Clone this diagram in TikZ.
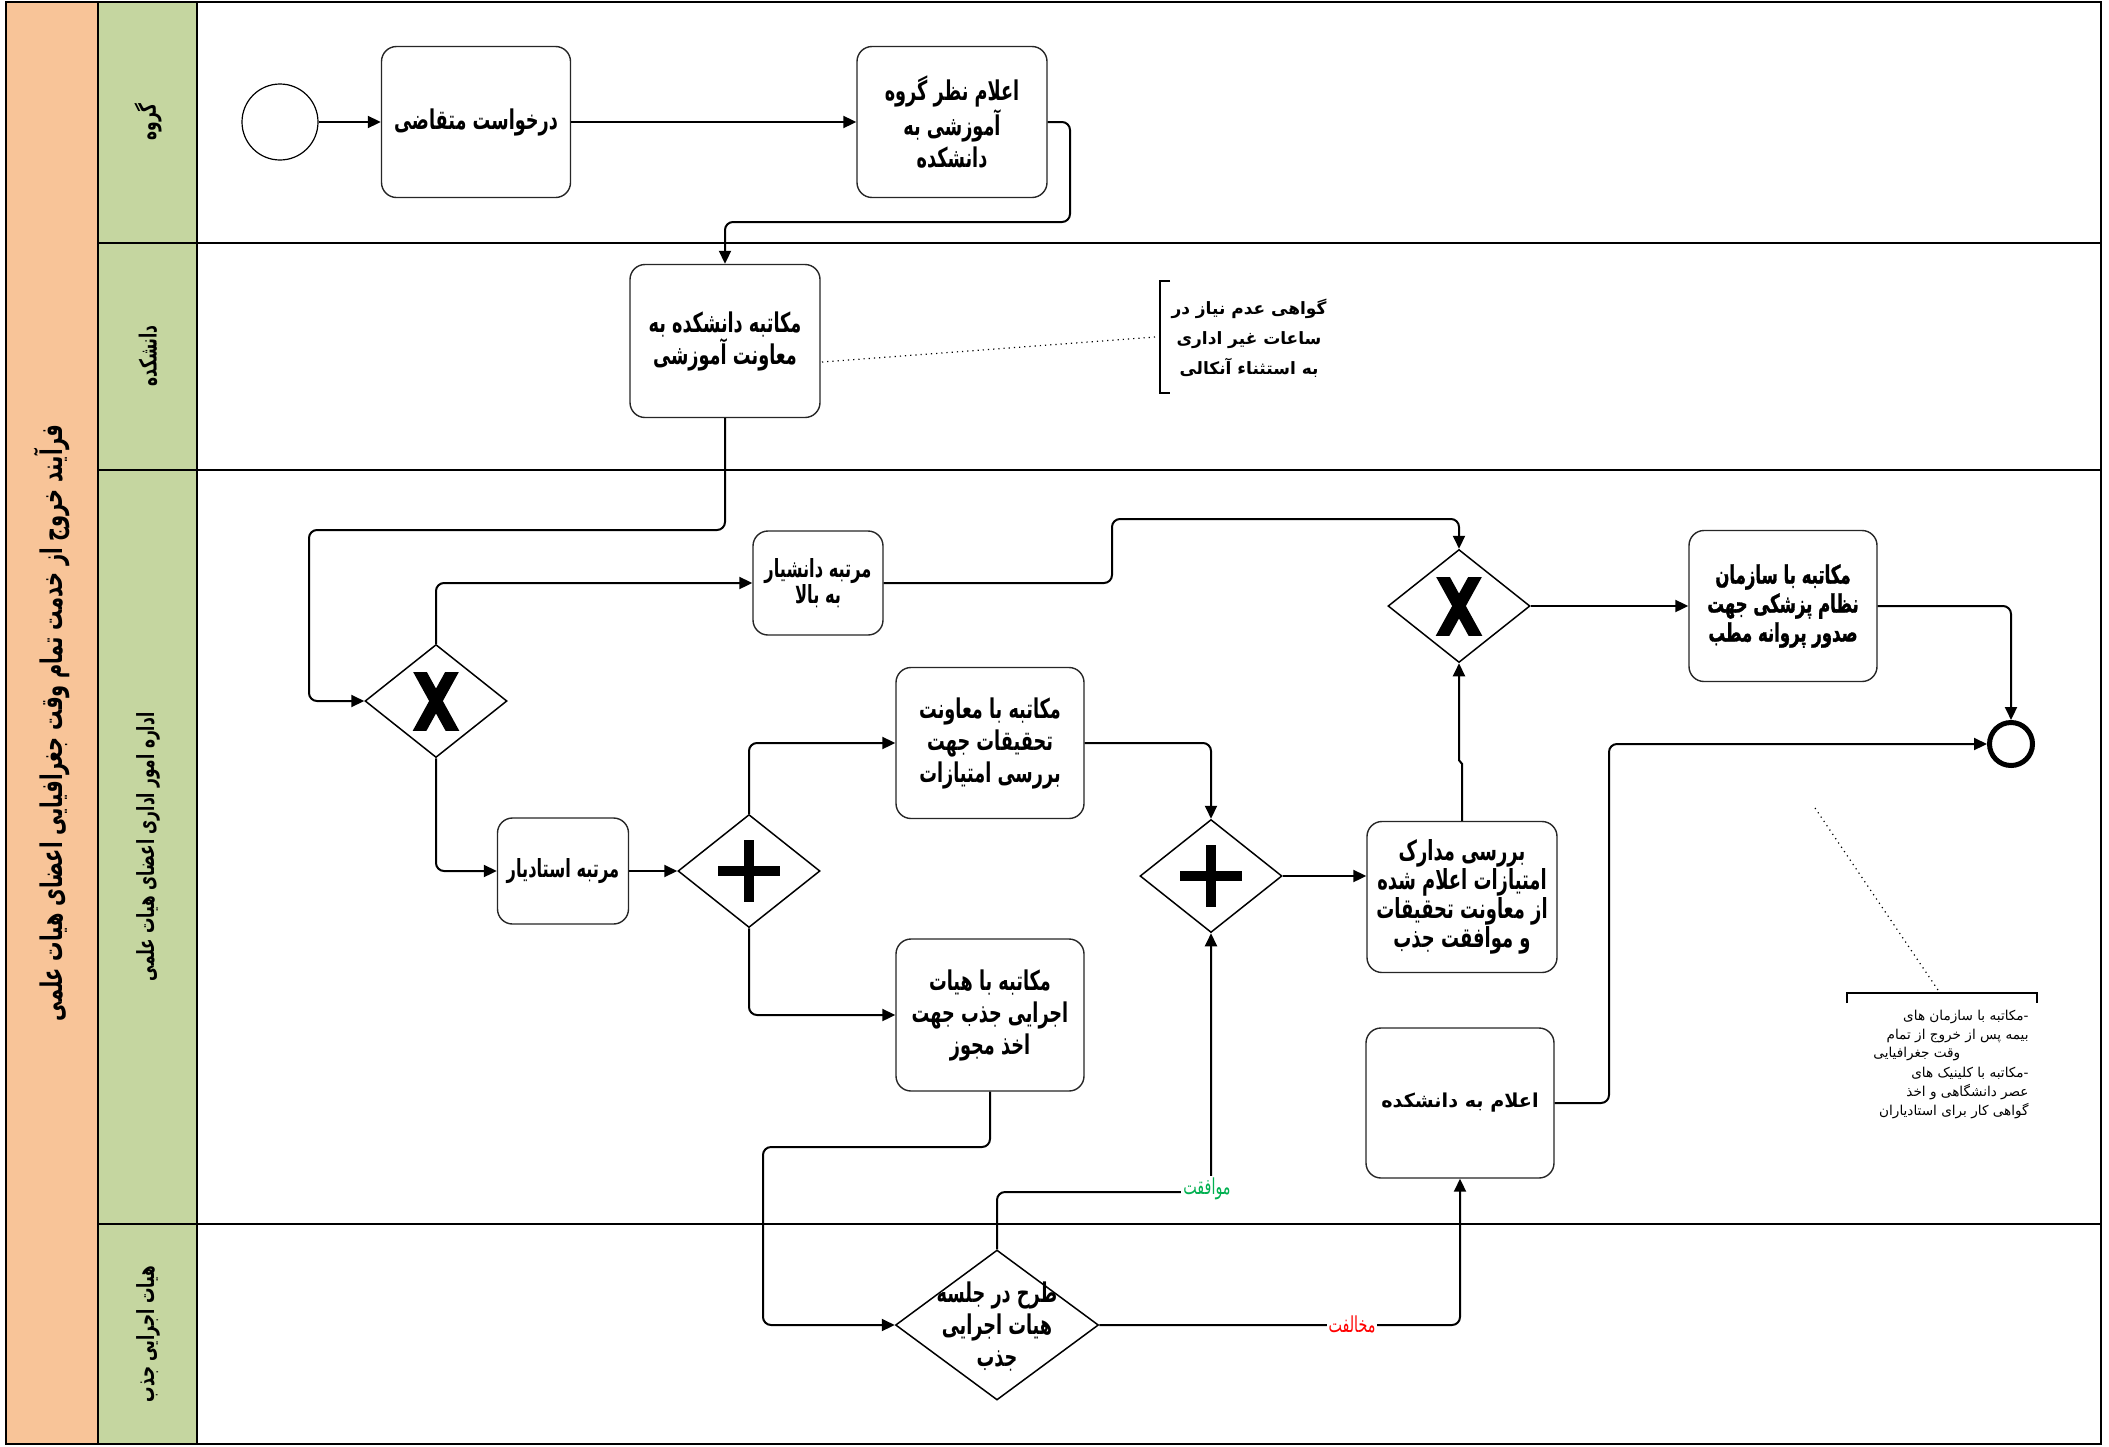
\documentclass[tikz,border=0pt]{standalone}
\usepackage{fontspec}
\usetikzlibrary{shapes.geometric,arrows.meta,calc}
\TeXXeTstate=1
\newfontfamily\fa[Script=Arabic,FakeStretch=0.65]{DejaVu Sans}
\newfontfamily\fab[Script=Arabic,FakeStretch=0.65,FakeBold=1.2]{DejaVu Sans Bold}
\newfontfamily\fn[Script=Arabic]{DejaVu Sans}
\newcommand\rtext[1]{\beginR#1\endR}
\definecolor{poolorange}{RGB}{248,196,152}
\definecolor{lanegreen}{RGB}{197,214,160}
\definecolor{okgreen}{RGB}{0,176,80}
\definecolor{nored}{RGB}{255,0,0}
\tikzset{
  task/.style={draw=black!85, line width=0.7pt, rounded corners=7.5pt, fill=white,
    align=center, inner sep=2pt, font=\fa\bfseries\fontsize{13.6}{16}\selectfont},
  smalltask/.style={task, font=\fa\bfseries\fontsize{12.5}{13}\selectfont},
  gw/.style={diamond, draw, line width=0.75pt, inner sep=0pt, fill=white,
    minimum width=71pt, minimum height=56.5pt},
  flow/.style={line width=1pt, rounded corners=4pt, -{Triangle[length=6.5pt,width=6pt]}},
  assoc/.style={line width=0.6pt, dotted},
  lanelbl/.style={rotate=90, font=\fa\bfseries\fontsize{11.8}{13}\selectfont},
  poolline/.style={line width=1.2pt},
  flowlbl/.style={fill=white, inner sep=1pt, font=\fa\fontsize{11}{12}\selectfont},
  anntext/.style={font=\fn\fontsize{6.8}{9}\selectfont, inner sep=0pt}
}
\begin{document}
\begin{tikzpicture}[x=0.5pt,y=-0.5pt]
\useasboundingbox (0,0) rectangle (2109,1446);
% pool and lanes
\fill[poolorange] (6,2) rectangle (98,1444);
\fill[lanegreen] (98,2) rectangle (197,1444);
\draw[poolline] (6,2) rectangle (2101,1444);
\draw[poolline] (98,2) -- (98,1444);
\draw[poolline] (197,2) -- (197,1444);
\draw[poolline] (98,243) -- (2101,243);
\draw[poolline] (98,470) -- (2101,470);
\draw[poolline] (98,1224) -- (2101,1224);
\node[lanelbl, font=\fa\bfseries\fontsize{14.9}{16}\selectfont] (title) at (52,723)
  {\rtext{فرآیند خروج از خدمت تمام وقت جغرافیایی  اعضای هیات علمی}};
\node[lanelbl] (lane1) at (148,122) {\rtext{گروه}};
\node[lanelbl] (lane2) at (148,356) {\rtext{دانشکده}};
\node[lanelbl] (lane3) at (148,847) {\rtext{اداره امور اداری اعضای هیات علمی}};
\node[lanelbl] (lane4) at (148,1334) {\rtext{هیات اجرایی جذب}};

% events
\node[circle, draw, line width=0.6pt, minimum size=38pt, inner sep=0pt] (start) at (280,122) {};
\node[circle, draw, line width=2.5pt, minimum size=21.5pt, inner sep=0pt] (end) at (2011,744) {};

% tasks
\node[task, minimum width=94.5pt, minimum height=75.5pt] (req) at (476,122) {\rtext{درخواست متقاضی}};
\node[task, minimum width=95pt, minimum height=75.5pt] (grp) at (952,122)
  {\rtext{اعلام نظر گروه}\\\rtext{آموزشی به}\\\rtext{دانشکده}};
\node[task, minimum width=95pt, minimum height=76.5pt] (fac) at (725,341)
  {\rtext{مکاتبه دانشکده به}\\\rtext{معاونت آموزشی}};
\node[smalltask, minimum width=65pt, minimum height=52pt] (dan) at (818,583)
  {\rtext{مرتبه دانشیار}\\\rtext{به بالا}};
\node[smalltask, minimum width=65.5pt, minimum height=53pt] (ost) at (563,871)
  {\rtext{مرتبه استادیار}};
\node[task, minimum width=94pt, minimum height=75.5pt] (moa) at (990,743)
  {\rtext{مکاتبه با معاونت}\\\rtext{تحقیقات جهت}\\\rtext{بررسی امتیازات}};
\node[task, minimum width=94pt, minimum height=76pt] (hey) at (990,1015)
  {\rtext{مکاتبه با هیات}\\\rtext{اجرایی جذب جهت}\\\rtext{اخذ مجوز}};
\node[task, minimum width=95pt, minimum height=75.5pt, font=\fa\bfseries\fontsize{13.8}{14.5}\selectfont] (bar) at (1462,897)
  {\rtext{بررسی مدارک}\\\rtext{امتیازات اعلام شده}\\\rtext{از معاونت تحقیقات}\\\rtext{و موافقت جذب}};
\node[task, minimum width=94pt, minimum height=75.5pt, font=\fab\fontsize{12.7}{14.5}\selectfont] (saz) at (1783,606)
  {\rtext{مکاتبه با سازمان}\\\rtext{نظام پزشکی جهت}\\\rtext{صدور پروانه مطب}};
\node[task, minimum width=94pt, minimum height=75pt, font=\fn\bfseries\fontsize{9.6}{13}\selectfont] (elam) at (1460,1103)
  {\rtext{اعلام به دانشکده}};

% gateways
\node[gw] (x1) at (436,701) {};
\node[gw] (a1) at (749,871) {};
\node[gw] (a2) at (1211,876) {};
\node[gw] (x2) at (1459,606) {};
\node[gw, minimum width=101.5pt, minimum height=75pt] (jal) at (997,1325) {};
\node[align=center, inner sep=0pt, font=\fa\bfseries\fontsize{13.6}{16}\selectfont] (jalt) at (997,1327)
  {\rtext{طرح در جلسه}\\\rtext{هیات اجرایی}\\\rtext{جذب}};

% gateway markers
\foreach \g in {x1,x2}{
  \begin{scope}[shift={(\g)}]
    \clip (-26,-29) rectangle (26,29);
    \draw[line width=6pt] (-19.3,-35) -- (19.3,35);
    \draw[line width=6pt] (19.3,-35) -- (-19.3,35);
  \end{scope}
}
\foreach \g in {a1,a2}{
  \begin{scope}[shift={(\g)}]
    \draw[line width=5pt] (-31,0) -- (31,0);
    \draw[line width=5pt] (0,-31) -- (0,31);
  \end{scope}
}

% bend points
\coordinate (c1) at (1070,222);
\coordinate (c2) at (309,530);
\coordinate (c3) at (763,1147);
\coordinate (c4) at (1211,1192);
\coordinate (c5) at (1112,519);
\coordinate (c6) at (1609,744);

% sequence flows
\draw[flow] (start) -- (req);
\draw[flow] (req) -- (grp);
\draw[flow] (grp.east) -| (c1) -| (fac.north);
\draw[flow] (fac.south) |- (c2) |- (x1.west);
\draw[flow] (x1.north) |- (dan.west);
\draw[flow] (x1.south) |- (ost.west);
\draw[flow] (ost.east) -- (a1.west);
\draw[flow] (a1.north) |- (moa.west);
\draw[flow] (a1.south) |- (hey.west);
\draw[flow] (moa.east) -| (a2.north);
\draw[flow] (hey.south) |- (c3) |- (jal.west);
\draw[flow] (jal.north) |- (c4) -- (a2.south);
\draw[flow] (jal.east) -| (elam.south);
\draw[flow] (a2.east) -- (bar.west |- a2.east);
\draw[flow, rounded corners=0pt] (bar.north) -- ($(bar.north)+(0,-57)$) -- ($(x2.south)+(0,97)$) -- (x2.south);
\draw[flow] (dan.east) -| (c5) -| (x2.north);
\draw[flow] (x2.east) -- (saz.west);
\draw[flow] (saz.east) -| (end.north);
\draw[flow] (elam.east) -| (c6) -- (end.west);

% flow labels
\node[flowlbl, text=okgreen] (lok) at (1207,1189) {\rtext{موافقت}};
\node[flowlbl, text=nored] (lno) at (1352,1324) {\rtext{مخالفت}};

% annotation 1
\coordinate (b1t) at (1160,281);
\coordinate (b1b) at (1160,393);
\draw[line width=0.9pt] ($(b1t)+(10,0)$) -- (b1t) -- (b1b) -- ($(b1b)+(10,0)$);
\node[align=center, inner sep=0pt, font=\fn\bfseries\fontsize{8.5}{15}\selectfont] (ann1) at (1249,338)
  {\rtext{گواهی عدم نیاز در}\\\rtext{ساعات غیر اداری}\\\rtext{به استثناء آنکالی}};
\coordinate (as1) at (822,362);
\coordinate (ae1) at (1155,337);
\draw[assoc] (as1) -- (ae1);

% annotation 2
\coordinate (b2l) at (1847,993);
\coordinate (b2r) at (2037,993);
\draw[line width=0.9pt] ($(b2l)+(0,10)$) -- (b2l) -- (b2r) -- ($(b2r)+(0,10)$);
\coordinate (as2) at (1815,808);
\coordinate (ae2) at (1940,993);
\draw[assoc] (as2) -- (ae2);
\node[anntext, anchor=east] (n1) at (2029,1017) {\rtext{-مکاتبه با سازمان های}};
\node[anntext, anchor=east] (n2) at (2029,1036) {\rtext{بیمه پس از خروج از تمام}};
\node[anntext, anchor=west] (n3) at (1873,1054) {\rtext{وقت جغرافیایی}};
\node[anntext, anchor=east] (n4) at (2029,1073) {\rtext{-مکاتبه با کلینیک های}};
\node[anntext, anchor=east] (n5) at (2029,1092) {\rtext{عصر دانشگاهی و اخذ}};
\node[anntext, anchor=east] (n6) at (2029,1111) {\rtext{گواهی کار برای استادیاران}};
\end{tikzpicture}
\end{document}
